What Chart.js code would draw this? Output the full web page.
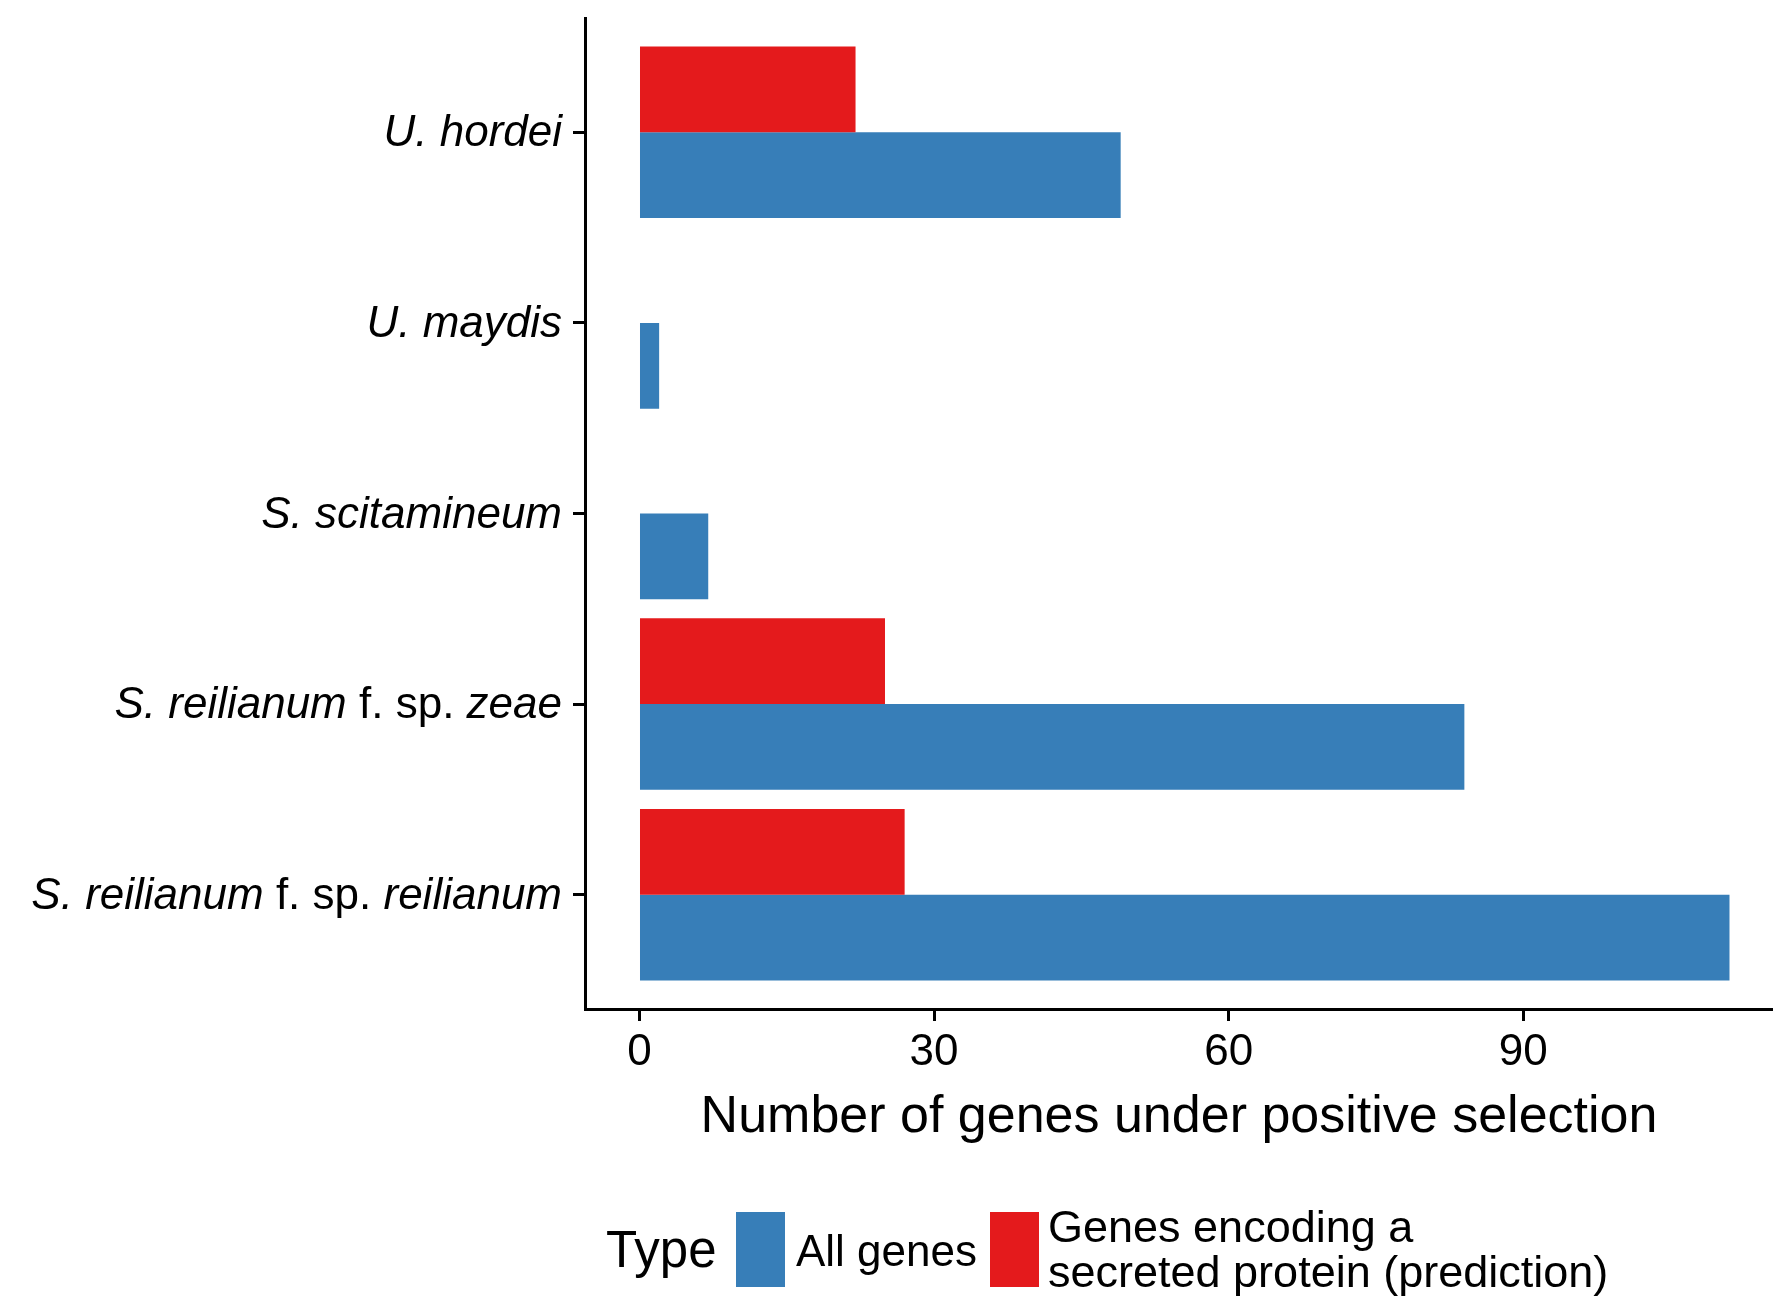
<!DOCTYPE html>
<html>
<head>
<meta charset="utf-8">
<script src="https://cdn.jsdelivr.net/npm/chart.js@4.4.0/dist/chart.umd.min.js"></script>
<style>
  body { margin: 0; background: #fff; }
  #wrap { position: relative; width: 1773px; height: 1298px; overflow: hidden; background: #fff;
          font-family: "Liberation Sans", Arial, sans-serif; color: #000; }
  #wrap canvas { position: absolute; left: 0; top: 0; }
  .lg { position: absolute; white-space: nowrap; }
  .key { position: absolute; width: 49px; height: 75px; }
</style>
</head>
<body>
<div id="wrap">
  <canvas id="chart" width="1773" height="1298"></canvas>
</div>
<script>
// categories, top to bottom
const species = [
    "U. hordei",
    "U. maydis",
    "S. scitamineum",
    "S. reilianum f. sp. zeae",
    "S. reilianum f. sp. reilianum"
];
const allGenes = [49, 2, 7, 84, 111];
const secretedGenes = [22, 0, 0, 25, 27];
const xTicks = [0, 30, 60, 90];
const seriesNames = ["All genes", "Genes encoding a\nsecreted protein (prediction)"];
const legendTitle = "Type";
const xTitle = "Number of genes under positive selection";

const BLUE = "#377EB8";
const RED = "#E41A1C";
const FONT = '"Liberation Sans", Arial, sans-serif';

// species names are italic, except the "f. sp." part
const speciesLabels = {
    id: "speciesLabels",
    afterDraw(chart) {
        const ctx = chart.ctx;
        const yScale = chart.scales.y;
        const right = yScale.right - 23;
        ctx.save();
        ctx.fillStyle = "#000";
        ctx.textBaseline = "alphabetic";
        ctx.textAlign = "left";
        species.forEach((name, i) => {
            const parts = name.split(/( f\. sp\. )/).filter(p => p !== "");
            const fonts = parts.map(p => (p === " f. sp. " ? "" : "italic ") + "44px " + FONT);
            const widths = parts.map((p, k) => {
                ctx.font = fonts[k];
                return ctx.measureText(p).width;
            });
            let x = right - widths.reduce((a, b) => a + b, 0);
            const y = yScale.getPixelForValue(i) + 14;
            parts.forEach((p, k) => {
                ctx.font = fonts[k];
                ctx.fillText(p, x, y);
                x += widths[k];
            });
        });
        ctx.restore();
    }
};

const ctx = document.getElementById("chart").getContext("2d");
new Chart(ctx, {
    type: "bar",
    data: {
        datasets: [
            {
                label: seriesNames[1],
                data: secretedGenes.map((v, i) => ({ x: v, y: i })),
                backgroundColor: RED,
                borderWidth: 0,
                categoryPercentage: 0.9,
                barPercentage: 1
            },
            {
                label: seriesNames[0],
                data: allGenes.map((v, i) => ({ x: v, y: i })),
                backgroundColor: BLUE,
                borderWidth: 0,
                categoryPercentage: 0.9,
                barPercentage: 1
            }
        ]
    },
    options: {
        indexAxis: "y",
        responsive: false,
        animation: false,
        layout: { padding: { top: 18, left: 0, right: 0, bottom: 0 } },
        plugins: {
            legend: { display: false },
            tooltip: { enabled: false }
        },
        scales: {
            x: {
                type: "linear",
                position: "bottom",
                min: -5.55,
                max: 115.43,
                offset: false,
                afterBuildTicks: s => { s.ticks = xTicks.map(v => ({ value: v })); },
                afterFit: s => { s.height = 289; },
                grid: { display: true, offset: false, drawOnChartArea: false, drawTicks: true,
                        tickLength: 12, tickWidth: 3, tickColor: "#000" },
                border: { display: true, color: "#000", width: 3 },
                ticks: { color: "#000", padding: 5, maxRotation: 0,
                         font: { family: FONT, size: 44 } },
                title: { display: true, text: xTitle, color: "#000",
                         font: { family: FONT, size: 52 },
                         padding: { top: 0, bottom: 149 } }
            },
            y: {
                type: "linear",
                position: "left",
                min: -0.6,
                max: 4.6,
                reverse: true,
                offset: false,
                afterBuildTicks: s => { s.ticks = species.map((_, i) => ({ value: i })); },
                afterFit: s => { s.width = 585; },
                grid: { display: true, offset: false, drawOnChartArea: false, drawTicks: true,
                        tickLength: 12, tickWidth: 3, tickColor: "#000" },
                border: { display: true, color: "#000", width: 3 },
                ticks: { display: false }
            }
        }
    },
    plugins: [speciesLabels]
});

// legend below the plot
const wrap = document.getElementById("wrap");
function addDiv(cls, style, text) {
    const d = document.createElement("div");
    d.className = cls;
    d.setAttribute("style", style);
    if (text !== undefined) d.textContent = text;
    wrap.appendChild(d);
    return d;
}
addDiv("lg", "left:606px;top:1224px;font-size:51px;line-height:51px", legendTitle);
addDiv("key", "left:736px;top:1212px;background:" + BLUE);
addDiv("lg", "left:796px;top:1229px;font-size:44px;line-height:44px", seriesNames[0]);
addDiv("key", "left:990px;top:1212px;background:" + RED);
const second = addDiv("lg", "left:1048px;top:1204px;font-size:45px;line-height:45px");
seriesNames[1].split("\n").forEach((line, k) => {
    if (k > 0) second.appendChild(document.createElement("br"));
    second.appendChild(document.createTextNode(line));
});
</script>
</body>
</html>
